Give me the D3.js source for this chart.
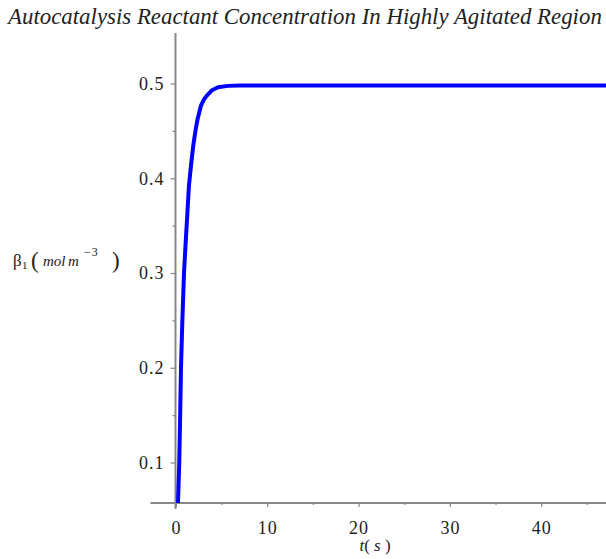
<!DOCTYPE html>
<html>
<head>
<meta charset="utf-8">
<script src="https://cdn.jsdelivr.net/npm/d3@7"></script>
<style>
  html, body { margin: 0; padding: 0; background: #fff; }
  svg { display: block; }
</style>
</head>
<body>
<svg id="chart" width="606" height="559"></svg>
<script>
// Reactant concentration beta_1 (mol m^-3) against time t (s)
const timeS = [0, 0.1, 0.22, 0.36, 0.46, 0.55, 0.7, 0.88, 1.05, 1.2, 1.42, 1.64, 1.9, 2.15, 2.37, 2.74, 3.05, 3.36, 3.9, 4.6, 5.7, 7, 10, 15, 20, 25, 30, 35, 40, 45, 50];
const beta1 = [0.035, 0.045, 0.057, 0.1, 0.15, 0.2, 0.25, 0.3, 0.33, 0.355, 0.392, 0.413, 0.435, 0.451, 0.4626, 0.4767, 0.483, 0.487, 0.4926, 0.4961, 0.4975, 0.498, 0.498, 0.498, 0.498, 0.498, 0.498, 0.498, 0.498, 0.498, 0.498];

const xTicks = [0, 10, 20, 30, 40];
const xMinorTicks = [5, 15, 25, 35, 45];
const yTicks = [0.1, 0.2, 0.3, 0.4, 0.5];
const yMinorTicks = [0.15, 0.25, 0.35, 0.45];

const titleText = "Autocatalysis Reactant Concentration In Highly Agitated Region";

const SERIF = "'Liberation Serif', 'Times New Roman', Times, 'DejaVu Serif', serif";
const svg = d3.select("#chart");

const x = d3.scaleLinear().domain([-2.79, 47.1]).range([150.5, 606]);
const y = d3.scaleLinear().domain([0.0573, 0.5533]).range([503, 33]);

const axisColor = "#888";

// clip region for the curve
svg.append("clipPath").attr("id", "plotClip")
  .append("rect").attr("x", 150).attr("y", 20).attr("width", 460).attr("height", 483);

// x axis through y-min, ticks below
const xAxisG = svg.append("g").attr("transform", `translate(0,${y.range()[0]})`);
xAxisG.call(d3.axisBottom(x).tickValues(xTicks).tickSize(4).tickFormat(d3.format("d")));
xAxisG.append("g").call(d3.axisBottom(x).tickValues(xMinorTicks).tickSize(2).tickFormat(""))
  .select(".domain").remove();
xAxisG.selectAll(".domain").attr("stroke", axisColor).attr("stroke-width", 2)
  .attr("d", `M${x.range()[0]},0H${x.range()[1]}`);
xAxisG.selectAll(".tick line").attr("stroke", axisColor).attr("stroke-width", 1.2);
xAxisG.selectAll(".tick text")
  .attr("y", 18).attr("dy", "0.71em")
  .style("font-family", SERIF)
  .style("font-size", "18px").style("letter-spacing", "1px").attr("fill", "#222");

// y axis through t = 0, ticks to the left
const yAxisG = svg.append("g").attr("transform", `translate(${x(0) - 0.5},0)`);
yAxisG.call(d3.axisLeft(y).tickValues(yTicks).tickSize(5).tickFormat(d3.format(".1f")));
yAxisG.append("g").call(d3.axisLeft(y).tickValues(yMinorTicks).tickSize(3).tickFormat(""))
  .select(".domain").remove();
yAxisG.selectAll(".domain").attr("stroke", axisColor).attr("stroke-width", 2)
  .attr("d", `M0,${y.range()[1]}V${y.range()[0] + 6}`);
yAxisG.selectAll(".tick line").attr("stroke", axisColor).attr("stroke-width", 1.2);
yAxisG.selectAll(".tick text")
  .attr("x", -11)
  .style("font-family", SERIF)
  .style("font-size", "18px").style("letter-spacing", "1px").attr("fill", "#222");

// curve
const pts = timeS.map((t, i) => [t, beta1[i]]);
svg.append("path")
  .datum(pts)
  .attr("clip-path", "url(#plotClip)")
  .attr("fill", "none")
  .attr("stroke", "#0000ff")
  .attr("stroke-width", 4)
  .attr("stroke-linejoin", "round")
  .attr("d", d3.line().x(d => x(d[0])).y(d => y(d[1])));

// helper for serif labels
function label(parent, px, py, size, str, italic) {
  return parent.append("text")
    .attr("x", px).attr("y", py)
    .style("font-family", SERIF)
    .style("font-size", size + "px")
    .style("font-style", italic ? "italic" : "normal")
    .attr("fill", "#222")
    .text(str);
}

// title, stretched to span the page width
const title = label(svg, 8, 24, 18, titleText, true);
const tw = title.node().getComputedTextLength();
title.style("font-size", (18 * 594 / tw).toFixed(2) + "px");

// x axis label: t(s)
const xl = svg.append("text").attr("x", 375).attr("y", 551)
  .attr("text-anchor", "middle")
  .style("font-family", SERIF).style("font-size", "17px").attr("fill", "#222");
xl.append("tspan").style("font-style", "italic").text("t");
xl.append("tspan").text("(");
xl.append("tspan").style("font-style", "italic").text(" s ");
xl.append("tspan").text(")");

// y axis label: β1(mol m^-3)
const yl = svg.append("g");
label(yl, 13, 266, 17, "β", false);
label(yl, 22, 269, 11, "1", false);
label(yl, 31, 268, 23, "(", false);
label(yl, 43, 266, 15, "mol", true);
label(yl, 68, 266, 15, "m", true);
label(yl, 84, 256, 12, "−3", false).style("letter-spacing", "1px");
label(yl, 112, 268, 23, ")", false);
</script>
</body>
</html>
